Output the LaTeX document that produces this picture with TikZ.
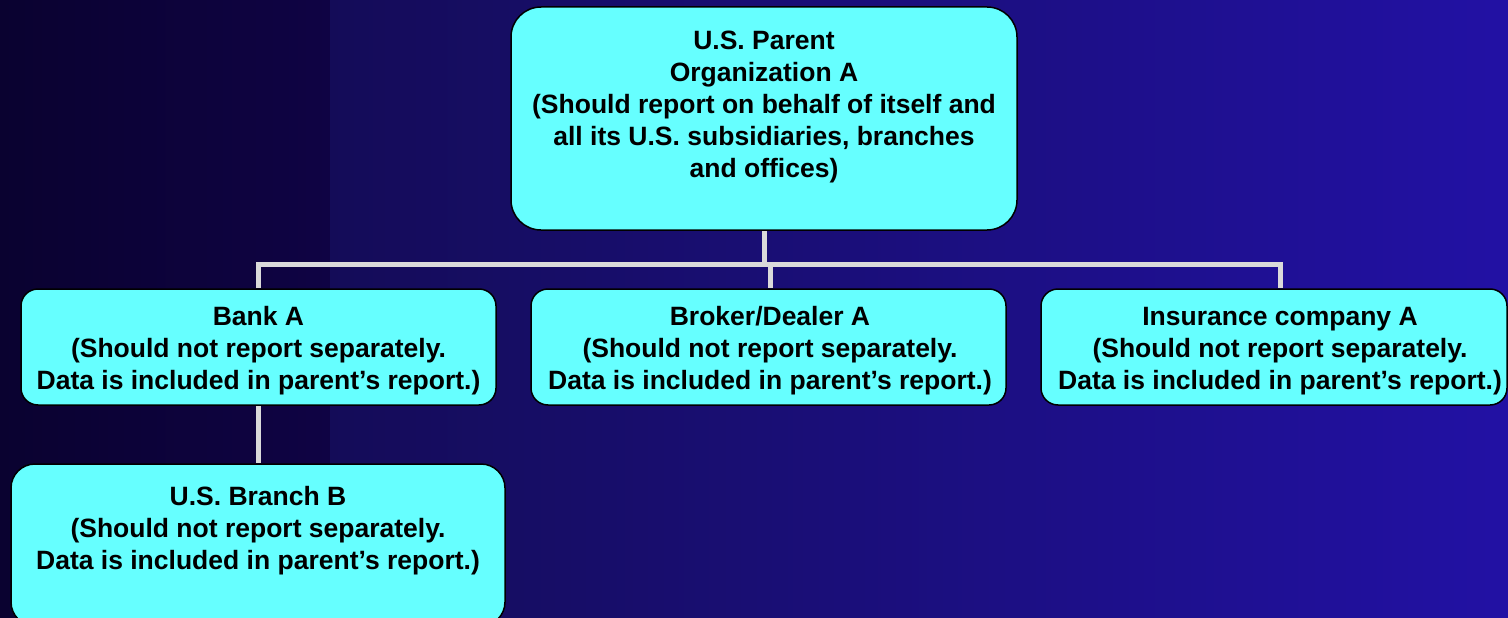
\documentclass[tikz,border=0pt]{standalone}
\usepackage{fontspec}
\setmainfont{Liberation Sans}
\usetikzlibrary{backgrounds}
\definecolor{bgA}{RGB}{10,2,48}
\definecolor{bgB}{RGB}{15,3,68}
\definecolor{bgC}{RGB}{20,12,88}
\definecolor{bgD}{RGB}{34,17,164}
\definecolor{boxfill}{HTML}{66FFFF}
\definecolor{connc}{HTML}{DADADA}
\tikzset{
  orgbox/.style={draw=black, line width=1.5pt, fill=boxfill, rectangle, inner sep=0pt},
  orgtxt/.style={align=center, text=black, inner sep=0pt,
    font=\fontsize{26.5}{32}\selectfont\bfseries},
  conn/.style={draw=connc, line width=5pt, line join=miter}
}
\begin{document}
\begin{tikzpicture}[x=1pt,y=-1pt]
\useasboundingbox (0,0) rectangle (1508,618);
% boxes
\node[orgbox, rounded corners=30pt, minimum width=506pt, minimum height=223pt] (parent) at (764,118.5) {};
\node[orgbox, rounded corners=17pt, minimum width=475pt, minimum height=116pt] (bank) at (258.5,347) {};
\node[orgbox, rounded corners=17pt, minimum width=475pt, minimum height=116pt] (brok) at (768.5,347) {};
\node[orgbox, rounded corners=17pt, minimum width=466pt, minimum height=116pt] (ins) at (1274,347) {};
\node[orgbox, rounded corners=24pt, minimum width=494pt, minimum height=162pt] (branch) at (258,545) {};
% texts
\node[orgtxt] (parentT) at (764,106.5) {U.S. Parent\\Organization A\\(Should report on behalf of itself and\\all its U.S. subsidiaries, branches\\and offices)};
\node[orgtxt] (bankT) at (258.5,351) {Bank A\\(Should not report separately.\\Data is included in parent’s report.)};
\node[orgtxt] (brokT) at (770,351) {Broker/Dealer A\\(Should not report separately.\\Data is included in parent’s report.)};
\node[orgtxt] (insT) at (1280,351) {Insurance company A\\(Should not report separately.\\Data is included in parent’s report.)};
\node[orgtxt] (branchT) at (258,531) {U.S. Branch B\\(Should not report separately.\\Data is included in parent’s report.)};
\begin{pgfonlayer}{background}
\fill[left color=bgA, right color=bgB] (0,0) rectangle (330,618);
\fill[left color=bgC, right color=bgD] (330,0) rectangle (1508,618);
\coordinate (bus) at (764,264.5);
\draw[conn] (parent.south) -- (bus);
\draw[conn] (bankT |- bank.north) -- (bankT |- bus) -- (insT |- bus) -- (insT |- ins.north);
\draw[conn] (brokT |- bus) -- (brokT |- brok.north);
\draw[conn] (bankT |- bank.south) -- (bankT |- branch.north);
\end{pgfonlayer}
\end{tikzpicture}
\end{document}
